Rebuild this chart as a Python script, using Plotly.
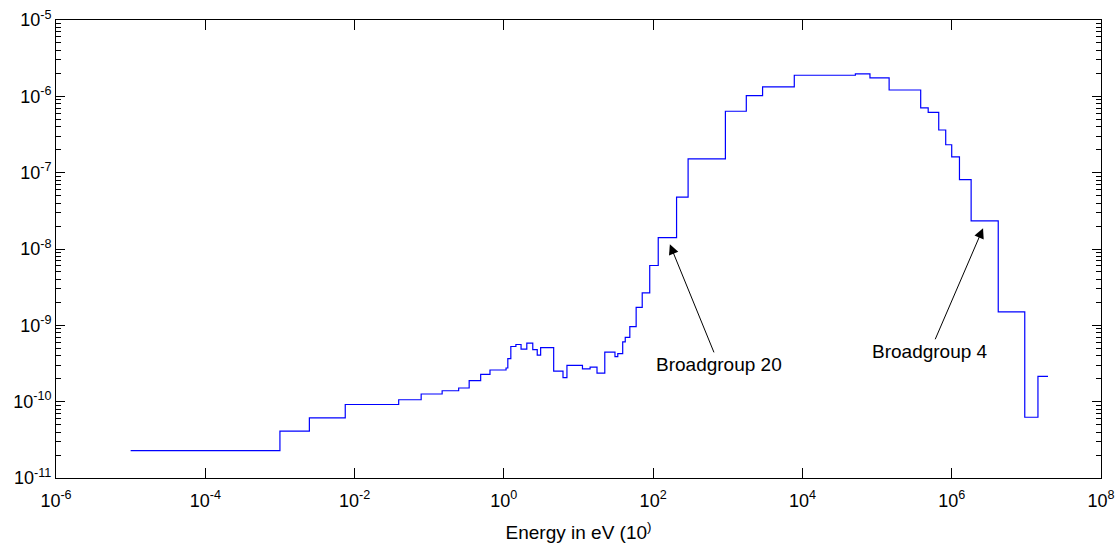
import math
import plotly.graph_objects as go

# Group boundaries (eV) and group values
energy_edges = [1e-5, 1e-3, 2.48e-3, 7.5e-3, 3.9e-2, 7.8e-2, 0.149, 0.248, 0.343, 0.489,
                0.652, 1.07, 1.13, 1.24, 1.45, 1.70, 2.03, 2.44, 2.80, 3.11,
                4.65, 6.2, 7.0, 11.3, 14.3, 17.7, 22.5, 30.8, 33.6, 39.1,
                42.3, 48.7, 59.2, 71.4, 90, 117, 206, 294, 929, 1770,
                2925, 7780, 5.12e4, 8.03e4, 1.45e5, 3.84e5, 4.84e5, 6.70e5, 8.31e5, 1.0e6,
                1.27e6, 1.82e6, 4.20e6, 9.52e6, 1.43e7, 1.95e7]
group_values = [2.29e-11, 4.10e-11, 6.14e-11, 9.18e-11, 1.06e-10, 1.26e-10, 1.39e-10, 1.51e-10, 1.89e-10,
                2.28e-10, 2.60e-10, 2.76e-10, 3.67e-10, 5.28e-10, 5.61e-10, 4.87e-10, 5.83e-10, 4.82e-10,
                4.06e-10, 5.12e-10, 2.51e-10, 2.06e-10, 2.98e-10, 2.69e-10, 2.84e-10, 2.37e-10, 4.47e-10,
                3.90e-10, 4.25e-10, 6.08e-10, 6.97e-10, 9.59e-10, 1.72e-9, 2.67e-9, 6.08e-9, 1.41e-8,
                4.77e-8, 1.52e-7, 6.38e-7, 1.02e-6, 1.33e-6, 1.89e-6, 1.97e-6, 1.75e-6, 1.21e-6,
                7.08e-7, 6.18e-7, 3.62e-7, 2.32e-7, 1.61e-7, 8.13e-8, 2.34e-8, 1.50e-9, 6.25e-11, 2.15e-10]

x_tick_vals = [1e-6, 1e-4, 1e-2, 1e0, 1e2, 1e4, 1e6, 1e8]
x_tick_text = ["10<sup>-6</sup>", "10<sup>-4</sup>", "10<sup>-2</sup>", "10<sup>0</sup>",
               "10<sup>2</sup>", "10<sup>4</sup>", "10<sup>6</sup>", "10<sup>8</sup>"]
y_tick_vals = [1e-11, 1e-10, 1e-9, 1e-8, 1e-7, 1e-6, 1e-5]
y_tick_text = ["10<sup>-11</sup>", "10<sup>-10</sup>", "10<sup>-9</sup>", "10<sup>-8</sup>",
               "10<sup>-7</sup>", "10<sup>-6</sup>", "10<sup>-5</sup>"]
y_minor_vals = [m * 10.0 ** e for e in range(-11, -5) for m in range(2, 10)]

annotations_data = [
    {"text": "Broadgroup 20", "x": 167.5, "y": 1.15e-8, "ax": 49, "ay": 120},
    {"text": "Broadgroup 4", "x": 2.63e6, "y": 1.87e-8, "ax": -53, "ay": 123},
]

font_family = "Liberation Sans, Arial, sans-serif"

fig = go.Figure()
fig.add_trace(go.Scatter(
    x=energy_edges,
    y=group_values + [group_values[-1]],
    mode="lines",
    line=dict(color="#0000ff", width=1.2, shape="hv"),
    showlegend=False,
))
# invisible helper trace for the minor-tick axis
fig.add_trace(go.Scatter(x=[1e-6], y=[1e-11], yaxis="y2", mode="markers",
                         marker=dict(opacity=0), showlegend=False, hoverinfo="skip"))

for a in annotations_data:
    fig.add_annotation(
        x=math.log10(a["x"]), y=math.log10(a["y"]),
        xref="x", yref="y", text=a["text"], showarrow=True,
        ax=a["ax"], ay=a["ay"], axref="pixel", ayref="pixel",
        arrowhead=2, arrowsize=2.0, arrowwidth=1, arrowcolor="black",
        font=dict(family=font_family, size=19, color="black"),
    )

axis_common = dict(
    showline=True, linecolor="black", linewidth=1, mirror="ticks",
    ticks="inside", tickcolor="black", tickwidth=1,
    showgrid=False, zeroline=False, automargin=False,
    tickfont=dict(family=font_family, size=18, color="black"),
)

fig.update_layout(
    width=1119, height=548,
    margin=dict(l=56, r=18, t=20, b=70),
    paper_bgcolor="white", plot_bgcolor="white",
    xaxis=dict(type="log", range=[-6, 8], tickvals=x_tick_vals, ticktext=x_tick_text,
               ticklen=10, ticklabelstandoff=6,
               title=dict(text="Energy in eV (10<sup>)</sup>", standoff=16,
                          font=dict(family=font_family, size=19, color="black")),
               **axis_common),
    yaxis=dict(type="log", range=[-11, -5], tickvals=y_tick_vals, ticktext=y_tick_text,
               ticklen=9, **axis_common),
    yaxis2=dict(type="log", range=[-11, -5], overlaying="y", tickvals=y_minor_vals,
                showticklabels=False, ticks="inside", ticklen=5, tickcolor="black",
                showline=True, linecolor="black", mirror="ticks", showgrid=False,
                zeroline=False, automargin=False),
)

fig.write_html("out.html")
